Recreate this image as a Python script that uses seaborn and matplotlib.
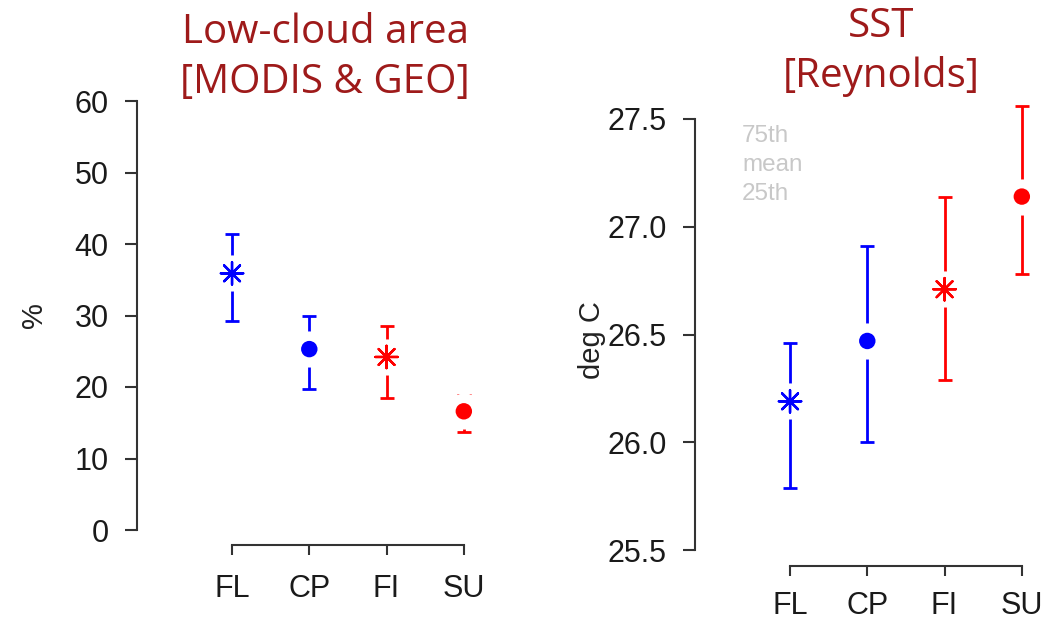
import numpy as np
import pandas as pd
import matplotlib
matplotlib.use("Agg")
import matplotlib.pyplot as plt
import seaborn as sns

# ---- data ----
cats = ["FL", "CP", "FI", "SU"]
groups = ["blue", "blue", "red", "red"]
marker_kind = ["asterisk", "circle", "asterisk", "circle"]

cloud_mean = [35.9, 25.3, 24.2, 16.6]
cloud_p75 = [41.4, 29.9, 28.5, 18.9]
cloud_p25 = [29.2, 19.7, 18.5, 13.7]

sst_mean = [26.19, 26.47, 26.71, 27.14]
sst_p75 = [26.46, 26.91, 27.14, 27.56]
sst_p25 = [25.79, 26.00, 26.29, 26.78]

cloud_yticks = [0, 10, 20, 30, 40, 50, 60]
sst_yticks = [25.5, 26.0, 26.5, 27.0, 27.5]
legend_lines = ["75th", "mean", "25th"]

palette = {"blue": "#0000FF", "red": "#FF0000"}
title_color = "#9E1A1A"

sns.set_theme(style="ticks")
plt.rcParams["font.family"] = ["Liberation Sans", "DejaVu Sans"]

W, H = 1056, 621
fig = plt.figure(figsize=(W / 100, H / 100), dpi=100)
fig.patch.set_facecolor("white")


def fx(px):
    return px / W


def fy(py):
    return 1 - py / H


ax1 = fig.add_axes([fx(137), fy(530), fx(350), 429 / H])
ax2 = fig.add_axes([fx(695), fy(550), fx(350), 431 / H])

AST = (8, 2, 0)


def draw_panel(ax, mean, p75, p25, yticks, ylim, ylabel, fmt, offset_pt, xpad):
    pos = np.arange(len(cats))
    df = pd.DataFrame({"pos": pos, "mean": mean, "p75": p75, "p25": p25,
                       "grp": groups, "kind": marker_kind})
    for _, r in df.iterrows():
        eb = ax.errorbar(r["pos"], r["mean"],
                         yerr=[[r["mean"] - r["p25"]], [r["p75"] - r["mean"]]],
                         fmt="none", ecolor=palette[r["grp"]], elinewidth=2.0,
                         capsize=5.0, capthick=2.0, zorder=2)
        for art in eb.lines[1]:
            art.set_clip_on(False)
        for art in eb.lines[2]:
            art.set_clip_on(False)
    # white halo around the mean marker (gap in the bar)
    sns.scatterplot(data=df, x="pos", y="mean", color="white", marker="o",
                    s=676, linewidth=0, ax=ax, legend=False, zorder=3)
    circ = df[df["kind"] == "circle"]
    star = df[df["kind"] == "asterisk"]
    sns.scatterplot(data=circ, x="pos", y="mean", hue="grp", palette=palette,
                    marker="o", s=140, linewidth=0, ax=ax, legend=False, zorder=4)
    sns.scatterplot(data=star, x="pos", y="mean", hue="grp", palette=palette,
                    marker=AST, s=260, linewidth=1.7, ax=ax, legend=False, zorder=4)

    ax.set_xlim(-1.23, 3.3)
    ax.set_ylim(*ylim)
    ax.set_xticks(pos)
    ax.set_xticklabels(cats)
    ax.set_yticks(yticks)
    ax.set_yticklabels([fmt.format(v) for v in yticks])
    ax.set_xlabel("")
    ax.set_ylabel(ylabel, fontsize=21, color="#222222")
    for s in ["top", "right"]:
        ax.spines[s].set_visible(False)
    ax.spines["left"].set_bounds(ylim[0], ylim[1])
    ax.spines["bottom"].set_bounds(0, len(cats) - 1)
    ax.spines["bottom"].set_position(("outward", offset_pt))
    for s in ["left", "bottom"]:
        ax.spines[s].set_linewidth(1.5)
        ax.spines[s].set_color("#333333")
    ax.tick_params(axis="y", length=8.5, width=1.5, color="#333333",
                   pad=12, labelsize=22, labelcolor="#1a1a1a")
    ax.tick_params(axis="x", length=7, width=1.5, color="#333333",
                   pad=xpad, labelsize=22, labelcolor="#1a1a1a")
    ax.set_facecolor("white")
    ax.grid(False)


draw_panel(ax1, cloud_mean, cloud_p75, cloud_p25, cloud_yticks, (0, 60),
           "%", "{:g}", 10.8, 14)
draw_panel(ax2, sst_mean, sst_p75, sst_p25, sst_yticks, (25.5, 27.5),
           "deg C", "{:.1f}", 11.5, 11)
ax1.yaxis.set_label_coords(-0.255, 0.5)
ax2.yaxis.set_label_coords(-0.255, 0.487)

tfont = dict(family=["Open Sans", "DejaVu Sans"], fontsize=29, color=title_color,
             ha="center", va="baseline")
fig.text(fx(325), fy(43), "Low-cloud area", **tfont)
fig.text(fx(325), fy(93), "[MODIS & GEO]", **tfont)
fig.text(fx(881), fy(37), "SST", **tfont)
fig.text(fx(881), fy(87), "[Reynolds]", **tfont)

for txt, base in zip(legend_lines, [142, 171, 200]):
    fig.text(fx(742), fy(base), txt, fontsize=17.5, color="#C8C8C8",
             ha="left", va="baseline")

fig.savefig("out.png", dpi=100, facecolor="white")
